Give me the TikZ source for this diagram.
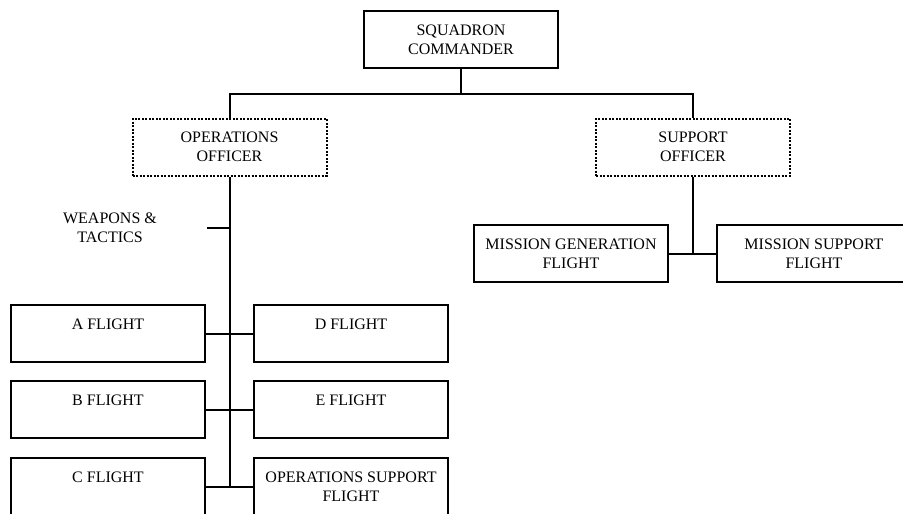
\documentclass[tikz,border=0pt]{standalone}
\usepackage{fontspec}
\setmainfont{Liberation Serif}
\usetikzlibrary{positioning}
\tikzset{box/.style={draw, line width=2pt, minimum width=194pt, minimum height=57pt, inner sep=2pt, align=center, font=\fontsize{16}{19}\selectfont}}
\tikzset{dotbox/.style={box, line width=2pt, dash pattern=on 2pt off 1.5pt}}
\tikzset{lnk/.style={line width=2pt}}

\begin{document}
\begin{tikzpicture}[x=1pt, y=-1pt]
\useasboundingbox (0,0) rectangle (903,514);
\clip (0,0) rectangle (903,514);

\node[box] (cmd) at (461, 39.5) {SQUADRON\\COMMANDER};
\node[dotbox] (ops) at (229.5, 147) {OPERATIONS\\OFFICER};
\node[dotbox] (sup) at (693, 147) {SUPPORT\\OFFICER};

\node[box] (mgen) at (571, 253.5) {MISSION GENERATION\\FLIGHT};
\node[box] (msup) at (814, 253.5) {MISSION SUPPORT\\FLIGHT};

\node[align=center, font=\fontsize{16}{19}\selectfont] (wt) at (110, 228) {WEAPONS \&\\TACTICS};

\node[box] (a) at (108, 333.5) {A FLIGHT\\\phantom{A}};
\node[box] (b) at (108, 409.5) {B FLIGHT\\\phantom{A}};
\node[box] (c) at (108, 486.5) {C FLIGHT\\\phantom{A}};
\node[box] (d) at (351, 333.5) {D FLIGHT\\\phantom{A}};
\node[box] (e) at (351, 409.5) {E FLIGHT\\\phantom{A}};
\node[box] (osf) at (351, 486.5) {OPERATIONS SUPPORT\\FLIGHT};

\coordinate (bus) at (461, 94);
\coordinate (wtend) at (207, 228);

\draw[lnk] (cmd) -- (bus);
\draw[lnk] (ops.north) |- (bus) -| (sup.north);

\draw[lnk] (ops.south) -- (ops.south |- c.east);
\draw[lnk] (wtend) -- (wtend -| ops.south);
\draw[lnk] (a) -- (d);
\draw[lnk] (b) -- (e);
\draw[lnk] (c) -- (osf);

\draw[lnk] (sup.south) -- (sup.south |- mgen.east);
\draw[lnk] (mgen) -- (msup);
\end{tikzpicture}
\end{document}
